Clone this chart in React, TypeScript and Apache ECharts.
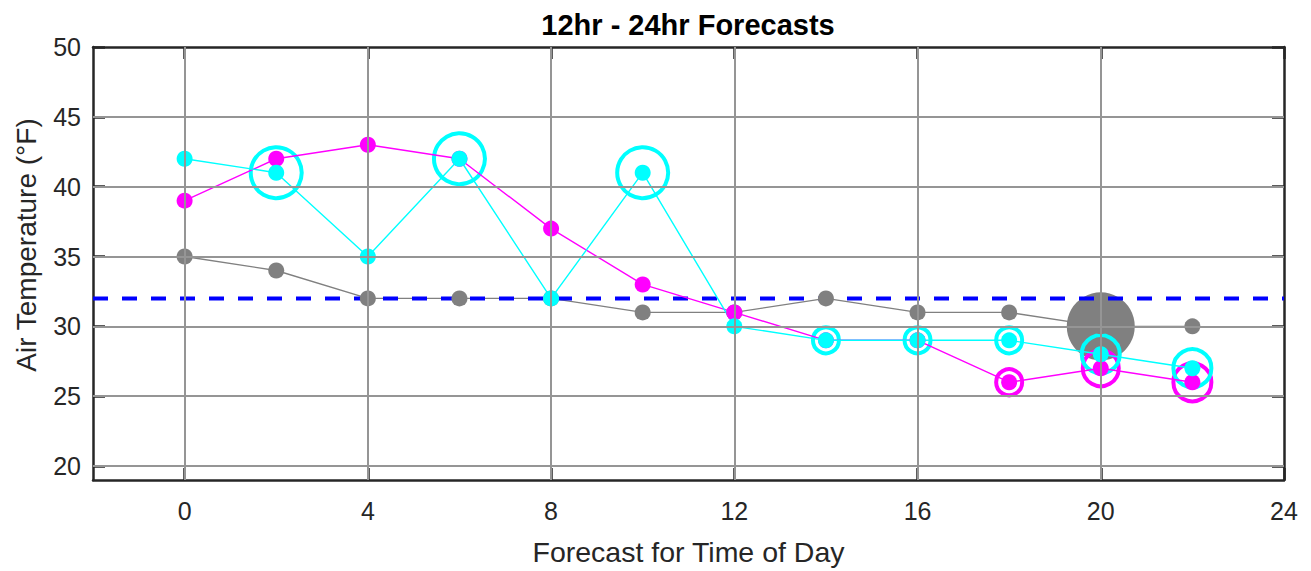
import React, { useEffect, useRef } from "react";
import * as echarts from "echarts";

const hours = [0, 2, 4, 6, 8, 10, 12, 14, 16, 18, 20, 22];
const grayTemps = [35, 34, 32, 32, 32, 31, 31, 32, 31, 31, 30, 30];
const magentaTemps = [39, 42, 43, 42, 37, 33, 31, 29, 29, 26, 27, 26];
const cyanTemps = [42, 41, 35, 42, 32, 41, 30, 29, 29, 29, 28, 27];

const freezing = 32;

// bubble markers (hour, temperature, magnitude)
const grayBubbleHours = [20];
const grayBubbleTemps = [30];
const grayBubbleMag = [68];

const magentaRingHours = [18, 20, 22];
const magentaRingTemps = [26, 27, 26];
const magentaRingMag = [26, 36, 38];

const cyanRingHours = [2, 6, 10, 14, 16, 18, 20, 22];
const cyanRingTemps = [41, 42, 41, 29, 29, 29, 28, 27];
const cyanRingMag = [51, 51, 51, 26, 26, 26, 38, 38];

const xTicks = [0, 4, 8, 12, 16, 20, 24];
const yTicks = [20, 25, 30, 35, 40, 45, 50];

const titleText = "12hr - 24hr Forecasts";
const xName = "Forecast for Time of Day";
const yName = "Air Temperature (°F)";

const GRAY = "#808080";
const MAGENTA = "#ff00ff";
const CYAN = "#00ffff";
const AXIS = "#262626";
const FONT = "Liberation Sans, Arial, sans-serif";

export default function App() {
  const ref = useRef<HTMLDivElement>(null);
  useEffect(() => {
    if (!ref.current) return;
    const chart = echarts.init(ref.current, undefined, { renderer: "svg" });
    const pairs = (xs: number[], ys: number[]) => xs.map((x, i) => [x, ys[i]]);
    const bubbles = (xs: number[], ys: number[], m: number[]) =>
      xs.map((x, i) => ({ value: [x, ys[i]], symbolSize: m[i] }));

    const axisCommon = {
      type: "value" as const,
      axisLine: { show: true, onZero: false, lineStyle: { color: AXIS, width: 2.5 } },
      splitLine: { show: false },
    };
    const tickStyle = { color: AXIS, width: 2.5 };

    chart.setOption({
      animation: false,
      backgroundColor: "#fff",
      graphic: [
        {
          type: "text",
          x: 688,
          y: 25,
          style: {
            text: titleText,
            textAlign: "center",
            textVerticalAlign: "middle",
            fontFamily: FONT,
            fontSize: 29,
            fontWeight: "bold",
            fill: "#000",
          },
        },
        {
          type: "text",
          x: 26,
          y: 245,
          rotation: Math.PI / 2,
          style: {
            text: yName,
            textAlign: "center",
            textVerticalAlign: "middle",
            fontFamily: FONT,
            fontSize: 28,
            fill: AXIS,
          },
        },
      ],
      grid: { left: 93, right: 27, top: 47, bottom: 89 },
      xAxis: [
        {
          ...axisCommon,
          position: "bottom",
          min: -2,
          max: 24,
          name: xName,
          nameLocation: "middle",
          nameGap: 57,
          nameTextStyle: { fontFamily: FONT, fontSize: 28.5, color: AXIS },
          axisTick: { show: true, inside: true, length: 12, customValues: xTicks, lineStyle: tickStyle },
          axisLabel: { show: true, customValues: xTicks, margin: 18, fontFamily: FONT, fontSize: 25, color: AXIS },
        },
        {
          ...axisCommon,
          position: "top",
          min: -2,
          max: 24,
          axisTick: { show: true, inside: true, length: 12, customValues: xTicks, lineStyle: tickStyle },
          axisLabel: { show: false },
        },
      ],
      yAxis: [
        {
          ...axisCommon,
          position: "left",
          min: 19,
          max: 50,
          axisTick: { show: true, inside: true, length: 12, customValues: yTicks, lineStyle: tickStyle },
          axisLabel: { show: true, customValues: yTicks, margin: 12, fontFamily: FONT, fontSize: 25, color: AXIS },
        },
        {
          ...axisCommon,
          position: "right",
          min: 19,
          max: 50,
          axisTick: { show: true, inside: true, length: 12, customValues: yTicks, lineStyle: tickStyle },
          axisLabel: { show: false },
        },
      ],
      series: [
        {
          type: "line",
          data: [],
          silent: true,
          markLine: {
            silent: true,
            symbol: "none",
            label: { show: false },
            lineStyle: { color: "#959595", width: 2, type: "solid" },
            data: [
              ...xTicks.slice(0, -1).map((v) => ({ xAxis: v })),
              ...yTicks.slice(0, -1).map((v) => ({ yAxis: v })),
            ],
          },
        },
        {
          type: "line",
          data: pairs(hours, grayTemps),
          symbol: "circle",
          symbolSize: 16,
          itemStyle: { color: GRAY },
          lineStyle: { color: GRAY, width: 1.4 },
        },
        {
          type: "scatter",
          data: bubbles(grayBubbleHours, grayBubbleTemps, grayBubbleMag),
          itemStyle: { color: GRAY, opacity: 1 },
        },
        {
          type: "line",
          data: [[-2, freezing], [24, freezing]],
          symbol: "none",
          lineStyle: { color: "#0000ff", width: 4, type: [15, 14] },
        },
        {
          type: "line",
          data: pairs(hours, magentaTemps),
          symbol: "circle",
          symbolSize: 16,
          itemStyle: { color: MAGENTA },
          lineStyle: { color: MAGENTA, width: 1.4 },
        },
        {
          type: "scatter",
          data: bubbles(magentaRingHours, magentaRingTemps, magentaRingMag),
          itemStyle: { color: "rgba(0,0,0,0)", borderColor: MAGENTA, borderWidth: 4, opacity: 1 },
        },
        {
          type: "line",
          data: pairs(hours, cyanTemps),
          symbol: "circle",
          symbolSize: 16,
          itemStyle: { color: CYAN },
          lineStyle: { color: CYAN, width: 1.4 },
        },
        {
          type: "scatter",
          data: bubbles(cyanRingHours, cyanRingTemps, cyanRingMag),
          itemStyle: { color: "rgba(0,0,0,0)", borderColor: CYAN, borderWidth: 4, opacity: 1 },
        },
      ],
    });
    return () => chart.dispose();
  }, []);
  return (
    <div
      ref={ref}
      style={{ position: "fixed", left: 0, top: 0, width: 1311, height: 571, background: "#fff" }}
    />
  );
}
